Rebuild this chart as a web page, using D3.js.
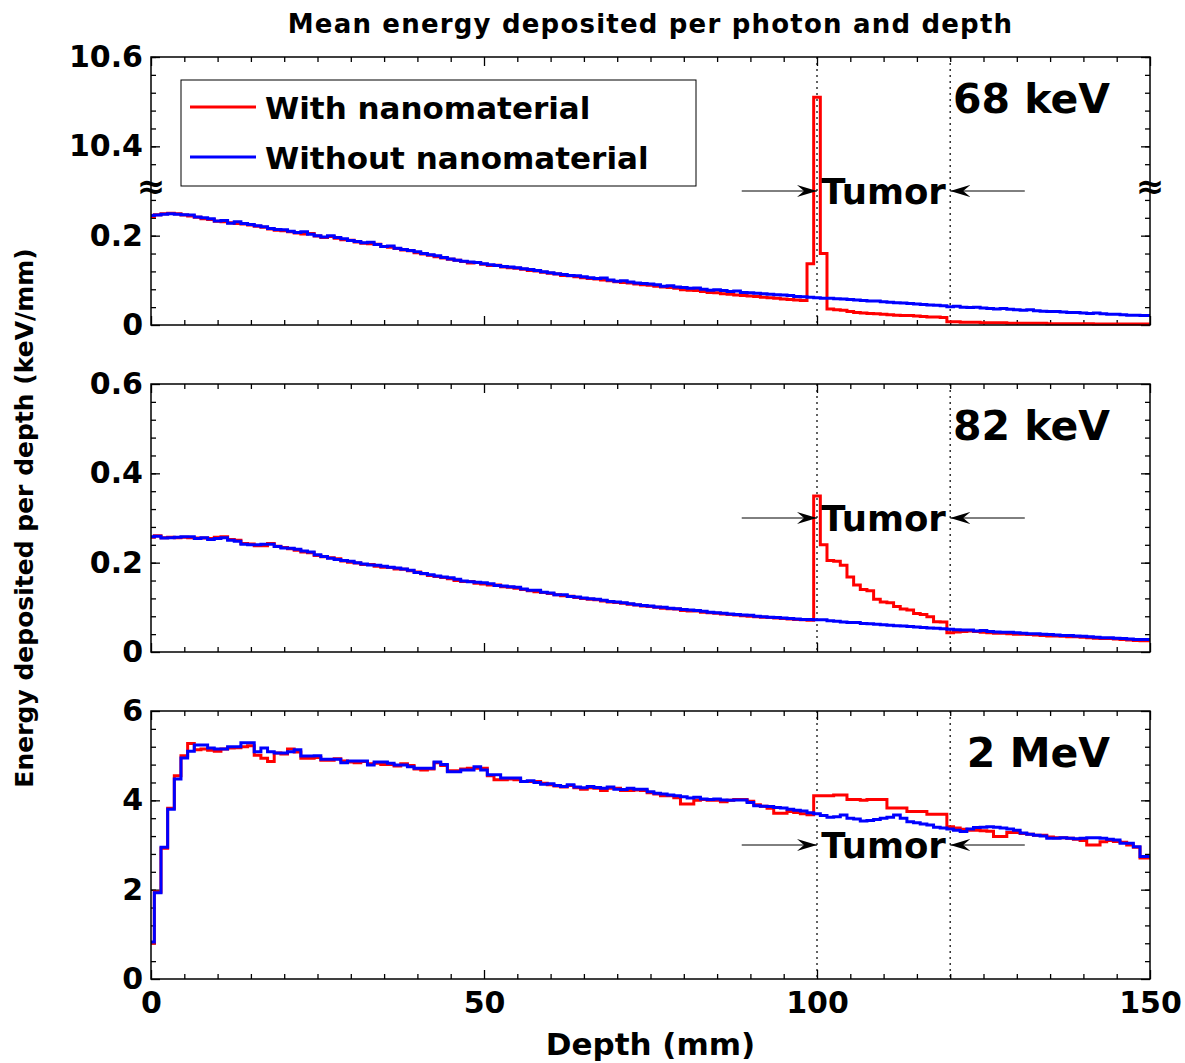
<!DOCTYPE html>
<html>
<head>
<meta charset="utf-8">
<script src="https://cdn.jsdelivr.net/npm/d3@7"></script>
<style>
body { margin: 0; background: #fff; }
svg text { font-family: "DejaVu Sans", sans-serif; font-weight: bold; fill: #000; }
</style>
</head>
<body>
<div class="mainviz"></div>
<script>
// depth bins are 1 mm wide, centred on 0..149 mm
var depthBins = d3.range(0, 150);

// 68 keV (values above the axis break are real values near 10.5)
var with68 = [
0.243,0.247,0.249,0.250,0.249, 0.246,0.244,0.241,0.238,0.236,
0.232,0.231,0.229,0.227,0.226, 0.224,0.221,0.219,0.215,0.212,
0.211,0.209,0.206,0.204,0.205, 0.199,0.196,0.198,0.194,0.191,
0.190,0.186,0.183,0.182,0.181, 0.176,0.174,0.171,0.168,0.166,
0.162,0.159,0.156,0.153,0.150, 0.147,0.145,0.142,0.139,0.140,
0.136,0.133,0.134,0.130,0.128, 0.127,0.125,0.122,0.121,0.118,
0.116,0.114,0.111,0.110,0.108, 0.106,0.104,0.103,0.101,0.099,
0.097,0.095,0.094,0.092,0.090, 0.089,0.087,0.085,0.084,0.082,
0.079,0.078,0.077,0.075,0.073, 0.072,0.070,0.069,0.067,0.066,
0.065,0.064,0.062,0.061,0.060, 0.058,0.057,0.056,0.055,0.137,
10.51,0.160,0.036,0.034,0.033, 0.030,0.028,0.027,0.026,0.025,
0.024,0.023,0.022,0.021,0.021, 0.020,0.019,0.018,0.018,0.017,
0.007,0.007,0.006,0.006,0.006, 0.005,0.005,0.005,0.005,0.004,
0.004,0.004,0.004,0.004,0.004, 0.003,0.003,0.003,0.003,0.003,
0.003,0.003,0.002,0.002,0.002, 0.002,0.002,0.002,0.002,0.002
];
var without68 = [
0.245,0.246,0.248,0.249,0.248, 0.247,0.246,0.242,0.240,0.238,
0.233,0.234,0.228,0.231,0.227, 0.225,0.222,0.220,0.216,0.214,
0.213,0.210,0.207,0.209,0.203, 0.200,0.197,0.200,0.196,0.193,
0.189,0.187,0.184,0.185,0.180, 0.176,0.177,0.172,0.169,0.167,
0.164,0.160,0.157,0.155,0.151, 0.148,0.145,0.143,0.141,0.140,
0.137,0.135,0.133,0.131,0.130, 0.128,0.126,0.124,0.122,0.119,
0.117,0.115,0.113,0.111,0.110, 0.108,0.106,0.104,0.105,0.101,
0.098,0.099,0.096,0.094,0.093, 0.092,0.090,0.087,0.088,0.085,
0.084,0.082,0.083,0.080,0.078, 0.079,0.077,0.075,0.076,0.073,
0.072,0.071,0.070,0.069,0.068, 0.067,0.066,0.064,0.063,0.062,
0.061,0.060,0.060,0.059,0.058, 0.057,0.056,0.055,0.054,0.054,
0.052,0.051,0.050,0.049,0.048, 0.047,0.046,0.045,0.044,0.043,
0.041,0.042,0.040,0.039,0.040, 0.038,0.037,0.036,0.037,0.035,
0.034,0.033,0.034,0.032,0.031, 0.030,0.030,0.029,0.028,0.028,
0.027,0.026,0.027,0.025,0.024, 0.024,0.023,0.022,0.022,0.021
];

// 82 keV
var with82 = [
0.257,0.260,0.256,0.257,0.256, 0.257,0.256,0.255,0.255,0.254,
0.257,0.258,0.252,0.250,0.243, 0.242,0.238,0.238,0.243,0.237,
0.234,0.231,0.228,0.224,0.222, 0.216,0.213,0.211,0.209,0.204,
0.201,0.199,0.196,0.196,0.192, 0.190,0.189,0.186,0.185,0.182,
0.179,0.175,0.171,0.169,0.167, 0.164,0.160,0.158,0.158,0.154,
0.152,0.150,0.150,0.146,0.145, 0.143,0.140,0.137,0.135,0.133,
0.131,0.128,0.126,0.125,0.122, 0.120,0.118,0.117,0.114,0.112,
0.111,0.109,0.107,0.105,0.103, 0.102,0.100,0.098,0.097,0.096,
0.093,0.092,0.092,0.089,0.088, 0.087,0.085,0.084,0.083,0.081,
0.080,0.079,0.078,0.077,0.076, 0.075,0.074,0.073,0.072,0.071,
0.349,0.240,0.205,0.203,0.194, 0.168,0.150,0.140,0.137,0.118,
0.112,0.110,0.102,0.096,0.094, 0.086,0.084,0.079,0.068,0.067,
0.043,0.045,0.046,0.047,0.046, 0.044,0.043,0.042,0.042,0.041,
0.040,0.040,0.039,0.038,0.037, 0.036,0.036,0.035,0.034,0.034,
0.033,0.032,0.031,0.030,0.030, 0.029,0.028,0.027,0.026,0.025
];
var without82 = [
0.258,0.259,0.255,0.256,0.257, 0.258,0.258,0.254,0.256,0.252,
0.254,0.256,0.250,0.248,0.241, 0.240,0.240,0.241,0.241,0.236,
0.233,0.232,0.230,0.226,0.224, 0.218,0.214,0.210,0.207,0.205,
0.203,0.200,0.197,0.195,0.194, 0.192,0.190,0.188,0.186,0.183,
0.178,0.176,0.173,0.170,0.168, 0.166,0.163,0.159,0.157,0.156,
0.155,0.153,0.149,0.148,0.146, 0.145,0.141,0.138,0.138,0.134,
0.132,0.128,0.128,0.124,0.123, 0.121,0.119,0.118,0.116,0.113,
0.112,0.110,0.108,0.106,0.104, 0.103,0.101,0.100,0.098,0.097,
0.095,0.094,0.093,0.091,0.089, 0.088,0.087,0.085,0.084,0.083,
0.082,0.080,0.079,0.078,0.077, 0.076,0.075,0.074,0.073,0.073,
0.072,0.072,0.070,0.069,0.067, 0.066,0.066,0.064,0.063,0.062,
0.061,0.060,0.059,0.058,0.057, 0.056,0.055,0.054,0.053,0.052,
0.051,0.050,0.049,0.049,0.047, 0.048,0.046,0.045,0.044,0.044,
0.043,0.042,0.041,0.041,0.040, 0.039,0.038,0.037,0.037,0.036,
0.035,0.034,0.033,0.032,0.032, 0.031,0.030,0.029,0.028,0.028
];

// 2 MeV
var with2 = [
0.80,1.95,2.93,3.82,4.55, 5.00,5.27,5.13,5.15,5.12,
5.10,5.15,5.17,5.18,5.20, 5.22,5.01,4.94,4.87,5.06,
5.04,5.15,5.08,4.94,4.94, 4.96,4.90,4.90,4.93,4.88,
4.86,4.84,4.87,4.82,4.83, 4.80,4.80,4.77,4.82,4.78,
4.70,4.68,4.70,4.84,4.78, 4.66,4.66,4.70,4.72,4.72,
4.72,4.55,4.46,4.46,4.48, 4.46,4.42,4.42,4.42,4.38,
4.35,4.32,4.30,4.33,4.28, 4.25,4.28,4.27,4.22,4.27,
4.27,4.22,4.22,4.23,4.22, 4.17,4.14,4.10,4.10,4.06,
3.92,3.92,4.00,4.02,4.00, 4.00,3.97,4.00,4.02,4.02,
3.98,3.90,3.87,3.82,3.71, 3.71,3.75,3.73,3.70,3.68,
4.10,4.10,4.10,4.12,4.12, 4.02,4.02,4.00,4.02,4.02,
4.02,3.83,3.83,3.83,3.75, 3.75,3.75,3.69,3.69,3.69,
3.41,3.38,3.35,3.33,3.33, 3.32,3.31,3.19,3.19,3.28,
3.28,3.26,3.24,3.22,3.22, 3.18,3.16,3.16,3.15,3.13,
3.10,3.00,3.00,3.07,3.10, 3.08,3.06,3.00,2.95,2.71
];
var without2 = [
0.83,1.93,2.95,3.80,4.48, 4.95,5.10,5.24,5.24,5.17,
5.15,5.15,5.20,5.20,5.29, 5.29,5.09,5.17,5.09,5.06,
5.06,5.09,5.13,4.99,4.99, 5.00,4.92,4.92,4.92,4.84,
4.88,4.88,4.88,4.79,4.86, 4.86,4.83,4.79,4.79,4.75,
4.72,4.72,4.72,4.86,4.80, 4.64,4.64,4.68,4.68,4.75,
4.68,4.57,4.57,4.50,4.50, 4.50,4.42,4.44,4.40,4.36,
4.37,4.33,4.31,4.35,4.30, 4.28,4.31,4.29,4.27,4.30,
4.25,4.24,4.27,4.25,4.25, 4.19,4.16,4.14,4.12,4.10,
4.08,4.05,4.07,4.03,4.02, 4.03,4.01,4.00,4.01,4.01,
3.95,3.88,3.87,3.86,3.84, 3.83,3.80,3.78,3.76,3.72,
3.70,3.66,3.62,3.63,3.67, 3.60,3.58,3.54,3.55,3.57,
3.60,3.62,3.67,3.60,3.52, 3.50,3.47,3.45,3.40,3.38,
3.36,3.33,3.30,3.36,3.39, 3.40,3.41,3.40,3.38,3.36,
3.33,3.27,3.24,3.22,3.20, 3.15,3.15,3.16,3.15,3.14,
3.15,3.16,3.16,3.15,3.13, 3.11,3.04,3.04,2.96,2.74
];

var xTicks = [0, 50, 100, 150];
var yTicks68 = [0, 0.2, 10.4, 10.6];
var yTicks82 = [0, 0.2, 0.4, 0.6];
var yTicks2 = [0, 2, 4, 6];
var energyLabels = ["68 keV", "82 keV", "2 MeV"];
var seriesNames = ["With nanomaterial", "Without nanomaterial"];
var tumorEdges = [100, 120];

var margin = { left: 151, top: 57 };
var width = 999, height = 268, gap = 327;

var svg = d3.select(".mainviz").append("svg")
	.attr("width", 1185)
	.attr("height", 1063);

var defs = svg.append("defs");
defs.append("marker")
	.attr("id", "arrow")
	.attr("viewBox", "-20 -7 20 14")
	.attr("refX", 0).attr("refY", 0)
	.attr("markerUnits", "userSpaceOnUse")
	.attr("markerWidth", 20).attr("markerHeight", 14)
	.attr("orient", "auto")
	.append("path")
	.attr("d", "M0,0L-20,-6L-13,0L-20,6Z")
	.attr("fill", "#000");

var x = d3.scaleLinear().domain([0, 150]).range([0, width]);

var panels = [
	{ withNano: with68, without: without68, ticks: yTicks68, labels: ["0", "0.2", "10.4", "10.6"],
	  y: d3.scaleLinear().domain([0, 0.3, 10.3, 10.6]).range([height, height / 2, height / 2, 0]),
	  minor: d3.range(0.04, 0.3, 0.04).concat(d3.range(10.36, 10.6, 0.04)), annot: 0.3, brk: true },
	{ withNano: with82, without: without82, ticks: yTicks82, labels: ["0", "0.2", "0.4", "0.6"],
	  y: d3.scaleLinear().domain([0, 0.6]).range([height, 0]),
	  minor: d3.range(0.04, 0.6, 0.04), annot: 0.3 },
	{ withNano: with2, without: without2, ticks: yTicks2, labels: ["0", "2", "4", "6"],
	  y: d3.scaleLinear().domain([0, 6]).range([height, 0]),
	  minor: d3.range(0.4, 6, 0.4), annot: 3 }
];

var xMinor = d3.range(5, 150, 5).filter(function(d){ return d % 50 !== 0; });

function styleAxis(g) {
	g.select(".domain").remove();
	g.selectAll("line").attr("stroke", "#000").attr("stroke-width", 1.3);
	g.selectAll("text").attr("font-size", 30).attr("font-family", "DejaVu Sans").attr("font-weight", "bold");
}

panels.forEach(function(p, i){
	var y = p.y;
	var chartGroup = svg.append("g")
		.attr("transform", "translate(" + margin.left + "," + (margin.top + i * gap) + ")");

	// dotted tumor borders
	chartGroup.selectAll("line.tumor")
		.data(tumorEdges)
		.enter().append("line")
		.attr("class", "tumor")
		.attr("x1", function(d){ return x(d); })
		.attr("x2", function(d){ return x(d); })
		.attr("y1", 0).attr("y2", height)
		.attr("stroke", "#222")
		.attr("stroke-width", 1.4)
		.attr("stroke-dasharray", "2,4");

	// minor ticks
	chartGroup.append("g").call(d3.axisLeft(y).tickValues(p.minor).tickSize(-5).tickFormat("")).call(styleAxis);
	chartGroup.append("g").attr("transform", "translate(" + width + ",0)")
		.call(d3.axisRight(y).tickValues(p.minor).tickSize(-5).tickFormat("")).call(styleAxis);
	chartGroup.append("g").call(d3.axisTop(x).tickValues(xMinor).tickSize(-5).tickFormat("")).call(styleAxis);
	chartGroup.append("g").attr("transform", "translate(0," + height + ")")
		.call(d3.axisBottom(x).tickValues(xMinor).tickSize(-5).tickFormat("")).call(styleAxis);

	// major ticks
	chartGroup.append("g")
		.call(d3.axisLeft(y).tickValues(p.ticks).tickSize(-9).tickPadding(8)
			.tickFormat(function(d, k){ return p.labels[k]; }))
		.call(styleAxis);
	chartGroup.append("g").attr("transform", "translate(" + width + ",0)")
		.call(d3.axisRight(y).tickValues(p.ticks).tickSize(-9).tickFormat("")).call(styleAxis);
	chartGroup.append("g").call(d3.axisTop(x).tickValues(xTicks).tickSize(-9).tickFormat("")).call(styleAxis);
	chartGroup.append("g").attr("transform", "translate(0," + height + ")")
		.call(d3.axisBottom(x).tickValues(xTicks).tickSize(-9).tickPadding(13)
			.tickFormat(i === 2 ? d3.format("d") : ""))
		.call(styleAxis);

	// step lines, each bin centred on its depth
	var line = d3.line()
		.x(function(d){ return x(d[0]); })
		.y(function(d){ return y(d[1]); })
		.curve(d3.curveStepAfter);

	function steps(values) {
		var pts = depthBins.map(function(b){ return [Math.max(0, b - 0.5), values[b]]; });
		pts.push([150, values[149]]);
		return pts;
	}

	chartGroup.append("path")
		.attr("d", line(steps(p.withNano)))
		.attr("fill", "none")
		.attr("stroke", "#ff0000")
		.attr("stroke-width", 3);

	chartGroup.append("path")
		.attr("d", line(steps(p.without)))
		.attr("fill", "none")
		.attr("stroke", "#0000ff")
		.attr("stroke-width", 3);

	// frame
	chartGroup.append("rect")
		.attr("width", width).attr("height", height)
		.attr("fill", "none")
		.attr("stroke", "#000")
		.attr("stroke-width", 1.5);

	// tumor annotation
	var ay = y(p.annot);
	chartGroup.append("line")
		.attr("x1", x(88.7)).attr("x2", x(tumorEdges[0]))
		.attr("y1", ay).attr("y2", ay)
		.attr("stroke", "#000").attr("stroke-width", 1)
		.attr("marker-end", "url(#arrow)");
	chartGroup.append("line")
		.attr("x1", x(131.2)).attr("x2", x(tumorEdges[1]))
		.attr("y1", ay).attr("y2", ay)
		.attr("stroke", "#000").attr("stroke-width", 1)
		.attr("marker-end", "url(#arrow)");
	chartGroup.append("text")
		.attr("x", x((tumorEdges[0] + tumorEdges[1]) / 2))
		.attr("y", ay)
		.attr("dy", "0.36em")
		.attr("text-anchor", "middle")
		.attr("font-size", 35.5)
		.text("Tumor");

	chartGroup.append("text")
		.attr("x", 959)
		.attr("y", 56)
		.attr("text-anchor", "end")
		.attr("font-size", 41)
		.text(energyLabels[i]);

	if (p.brk) {
		[0, width].forEach(function(bx){
			chartGroup.append("text")
				.attr("x", bx).attr("y", height / 2 - 5)
				.attr("dy", "0.35em")
				.attr("text-anchor", "middle")
				.attr("font-size", 34)
				.attr("font-weight", "normal")
				.text("\u2248");
		});

		// legend
		var legend = chartGroup.append("g").attr("transform", "translate(30,23)");
		legend.append("rect")
			.attr("width", 515).attr("height", 106)
			.attr("fill", "#fff")
			.attr("stroke", "#000")
			.attr("stroke-width", 1);
		var colors = ["#ff0000", "#0000ff"];
		seriesNames.forEach(function(name, k){
			legend.append("line")
				.attr("x1", 9).attr("x2", 75)
				.attr("y1", 27 + k * 50).attr("y2", 27 + k * 50)
				.attr("stroke", colors[k]).attr("stroke-width", 3);
			legend.append("text")
				.attr("x", 84).attr("y", 39 + k * 50)
				.attr("font-size", 31)
				.text(name);
		});
	}
});

svg.append("text")
	.attr("x", margin.left + width / 2)
	.attr("y", 33)
	.attr("text-anchor", "middle")
	.attr("font-size", 26)
	.attr("letter-spacing", 1.2)
	.text("Mean energy deposited per photon and depth");

svg.append("text")
	.attr("x", margin.left + width / 2)
	.attr("y", 1055)
	.attr("text-anchor", "middle")
	.attr("font-size", 31)
	.text("Depth (mm)");

svg.append("text")
	.attr("transform", "translate(33,518) rotate(-90)")
	.attr("text-anchor", "middle")
	.attr("font-size", 25)
	.text("Energy deposited per depth (keV/mm)");
</script>
</body>
</html>
